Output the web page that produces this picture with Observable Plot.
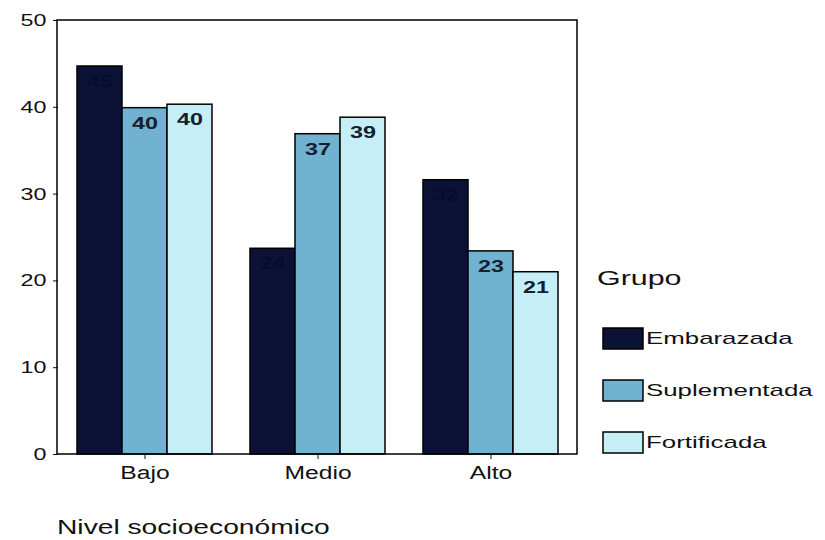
<!DOCTYPE html>
<html>
<head>
<meta charset="utf-8">
<script src="https://cdn.jsdelivr.net/npm/d3@7"></script>
<script src="https://cdn.jsdelivr.net/npm/@observablehq/plot@0.6"></script>
<style>
  html, body { margin: 0; padding: 0; background: #fff; }
  #wrap { position: relative; width: 825px; height: 540px; }
  #chart, #overlay { position: absolute; left: 0; top: 0; }
  #overlay { pointer-events: none; }
</style>
</head>
<body>
<div id="wrap">
  <div id="chart"></div>
  <svg id="overlay" width="825" height="540"></svg>
</div>
<script>
// Socioeconomic level by group (%)
const niveles = ["Bajo", "Medio", "Alto"];
const grupos = ["Embarazada", "Suplementada", "Fortificada"];
const embarazada = [44.7, 23.7, 31.6];
const suplementada = [39.9, 36.9, 23.4];
const fortificada = [40.3, 38.8, 21.0];
const colores = ["#0b1236", "#72b2d1", "#c6eef7"];
const etiquetaColor = ["#070c2a", "#14202e", "#14202e"];
const yTicks = [0, 10, 20, 30, 40, 50];
const tituloLeyenda = "Grupo";
const tituloEjeX = "Nivel socioeconómico";

const series = [embarazada, suplementada, fortificada];
const rows = [];
niveles.forEach((nivel, i) => {
  grupos.forEach((grupo, j) => {
    rows.push({nivel, grupo, valor: series[j][i], labelFill: etiquetaColor[j]});
  });
});

const FONT = "Liberation Sans, Arial, sans-serif";
const W = 825, H = 500, mL = 57, mR = 248, mT = 20, mB = 46;

const plot = Plot.plot({
  width: W,
  height: H,
  marginLeft: mL,
  marginRight: mR,
  marginTop: mT,
  marginBottom: mB,
  style: {fontFamily: FONT, fontSize: "17px", background: "white", color: "#111"},
  fx: {domain: niveles, paddingInner: 0, paddingOuter: 0, label: null, tickSize: 5, tickPadding: 7},
  x: {domain: grupos, axis: null, paddingInner: 0, paddingOuter: 0.39},
  y: {domain: [0, 50], ticks: yTicks, tickSize: 5, tickPadding: 7, label: null},
  color: {domain: grupos, range: colores},
  marks: [
    Plot.barY(rows, {fx: "nivel", x: "grupo", y: "valor", fill: "grupo", stroke: "#000", strokeWidth: 1.5}),
    Plot.text(rows, {
      fx: "nivel", x: "grupo", y: "valor",
      text: d => d3.format(".0f")(d.valor),
      dy: 15, fill: "labelFill", fontWeight: "bold", fontSize: 17
    })
  ]
});

// Box around the plotting area
const ys = plot.scale("y").range;
d3.select(plot).append("rect")
  .attr("x", mL).attr("y", Math.min(...ys))
  .attr("width", W - mL - mR).attr("height", Math.abs(ys[0] - ys[1]))
  .attr("fill", "none").attr("stroke", "#000").attr("stroke-width", 1.5);

document.getElementById("chart").appendChild(plot);

// Wide lettering: stretch each text horizontally by factor k
function stretch(selection, k) {
  selection.each(function() {
    const len = this.getComputedTextLength();
    this.setAttribute("textLength", len * k);
    this.setAttribute("lengthAdjust", "spacingAndGlyphs");
  });
}
d3.select(plot).selectAll("g[aria-label='fx-axis tick label'] text").attr("font-size", 18);
stretch(d3.select(plot).selectAll("text"), 1.37);

// Legend and axis title
const ov = d3.select("#overlay").attr("font-family", FONT).attr("fill", "#111");
stretch(ov.append("text").attr("x", 597).attr("y", 285).attr("font-size", 20).text(tituloLeyenda), 1.52);
grupos.forEach((g, i) => {
  const y0 = 328 + i * 52;
  ov.append("rect").attr("x", 603).attr("y", y0).attr("width", 40).attr("height", 21)
    .attr("fill", colores[i]).attr("stroke", "#000").attr("stroke-width", 1.5);
  stretch(ov.append("text").attr("x", 646).attr("y", y0 + 16).attr("font-size", 17).text(g), 1.52);
});
stretch(ov.append("text").attr("x", 57).attr("y", 534).attr("font-size", 20).text(tituloEjeX), 1.41);
</script>
</body>
</html>
